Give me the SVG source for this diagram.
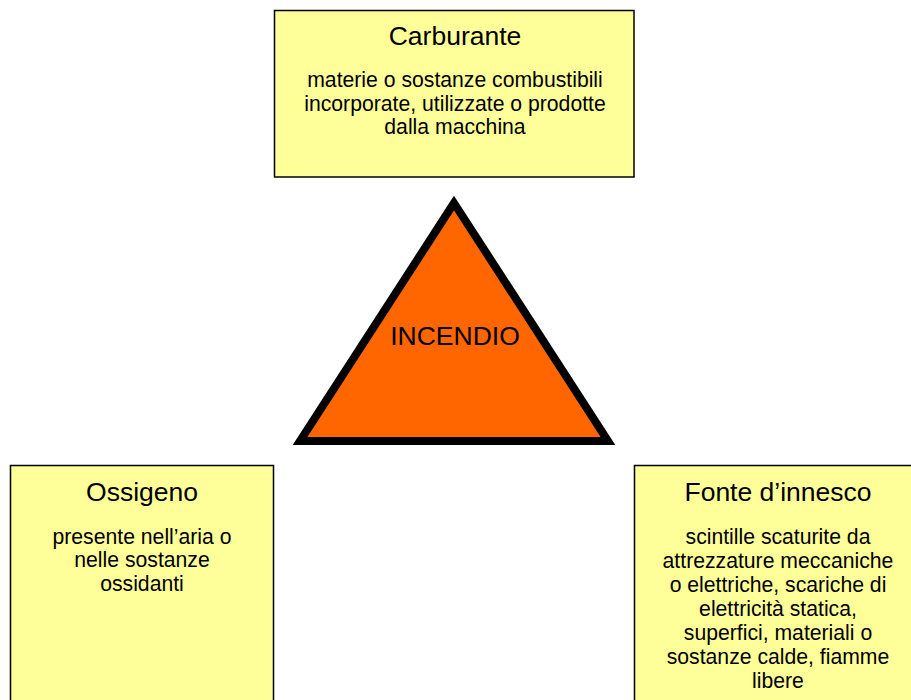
<svg xmlns="http://www.w3.org/2000/svg" width="911" height="700" viewBox="0 0 911 700">
<style>
.box{fill:#ffff99;stroke:#000;stroke-width:1.5}
.t{font-family:"Liberation Sans",Arial,sans-serif;fill:#000;text-anchor:middle}
.h{font-size:26.5px}
.b{font-size:21.2px}
</style>
<rect width="911" height="700" fill="#fff"/>
<g id="connectors"></g>
<g id="carburante">
<rect class="box" x="274.5" y="10.5" width="359.5" height="166.5"/>
<text class="t h" x="455" y="45">Carburante</text>
<text class="t b" x="455" y="87">materie o sostanze combustibili</text>
<text class="t b" x="455" y="111">incorporate, utilizzate o prodotte</text>
<text class="t b" x="455" y="134">dalla macchina</text>
</g>
<g id="incendio">
<polygon points="454,203 300,441 608,441" fill="#ff6600" stroke="#000" stroke-width="8"/>
<text class="t h" x="455" y="345">INCENDIO</text>
</g>
<g id="ossigeno">
<rect class="box" x="10.5" y="465.5" width="263" height="250"/>
<text class="t h" x="142" y="501">Ossigeno</text>
<text class="t b" x="142" y="544">presente nell’aria o</text>
<text class="t b" x="142" y="567">nelle sostanze</text>
<text class="t b" x="142" y="591">ossidanti</text>
</g>
<g id="fonte">
<rect class="box" x="634.5" y="465.5" width="288" height="250"/>
<text class="t h" x="778" y="501">Fonte d’innesco</text>
<text class="t b" x="778" y="544">scintille scaturite da</text>
<text class="t b" x="778" y="568">attrezzature meccaniche</text>
<text class="t b" x="778" y="592">o elettriche, scariche di</text>
<text class="t b" x="778" y="616">elettricità statica,</text>
<text class="t b" x="778" y="640">superfici, materiali o</text>
<text class="t b" x="778" y="664">sostanze calde, fiamme</text>
<text class="t b" x="778" y="688">libere</text>
</g>
</svg>
